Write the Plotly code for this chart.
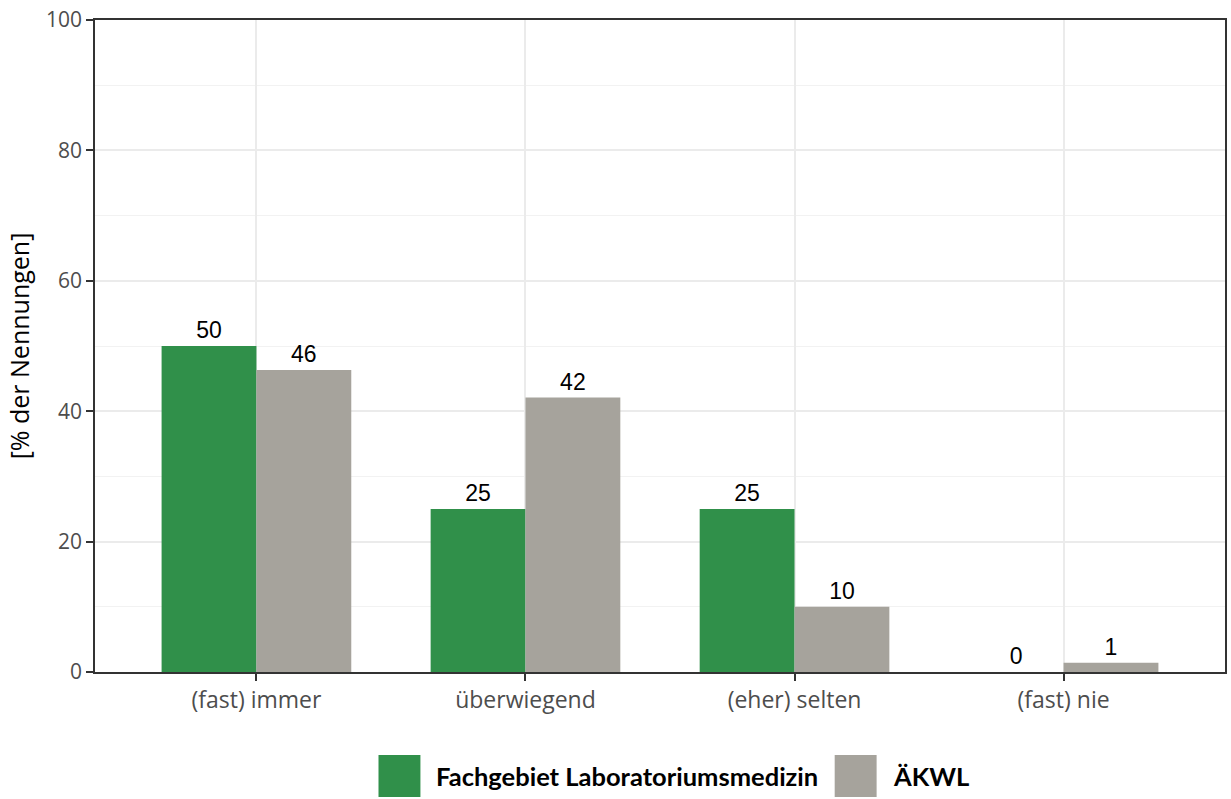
import plotly.graph_objects as go

categories = ["(fast) immer", "überwiegend", "(eher) selten", "(fast) nie"]
labor = [50, 25, 25, 0]
aekwl = [46.3, 42.1, 10.0, 1.4]
series_names = ["Fachgebiet Laboratoriumsmedizin", "ÄKWL"]
colors = ["#30904A", "#A6A39C"]
y_ticks = [0, 20, 40, 60, 80, 100]

fig = go.Figure()
for name, vals, col in zip(series_names, [labor, aekwl], colors):
    fig.add_trace(go.Bar(
        x=categories, y=vals, name=name,
        marker=dict(color=col, line=dict(width=0)),
        text=[f"{v:.0f}" for v in vals],
        textposition="outside",
        textfont=dict(family="Liberation Sans, Arial", size=23, color="black"),
        cliponaxis=False,
        showlegend=False,
    ))

# legend drawn by hand (large keys like ggplot)
leg = [(379, series_names[0], colors[0]), (836, series_names[1], colors[1])]
for x0, name, col in leg:
    fig.add_shape(type="rect", xref="paper", yref="paper",
                  x0=(x0 - 95) / 1132, x1=(x0 + 42 - 95) / 1132,
                  y0=(672 - 797) / 652, y1=(672 - 755) / 652,
                  fillcolor=col, line=dict(width=0))
    fig.add_annotation(text=f"<b>{name}</b>", xref="paper", yref="paper",
                       x=(x0 + 56 - 95) / 1132, y=(672 - 776) / 652,
                       xanchor="left", yanchor="middle", showarrow=False,
                       font=dict(family="Lato, Open Sans", size=25.5, color="black"))

fig.update_layout(
    barmode="group",
    bargap=0.295,
    bargroupgap=0,
    width=1231, height=799,
    margin=dict(l=95, r=4, t=20, b=127),
    plot_bgcolor="white",
    paper_bgcolor="white",
    font=dict(family="Open Sans", color="#4D4D4D"),
)
fig.update_xaxes(
    range=[-0.6, 3.6],
    showgrid=True, gridcolor="#EBEBEB", gridwidth=1.5,
    showline=True, linecolor="#333333", linewidth=1.5, mirror=True,
    ticks="outside", ticklen=7, tickcolor="#333333", tickwidth=1.5,
    tickfont=dict(family="Open Sans", size=23, color="#4D4D4D"),
)
fig.update_yaxes(
    range=[0, 100],
    tickvals=y_ticks,
    showgrid=True, gridcolor="#EBEBEB", gridwidth=1.5,
    minor=dict(dtick=10, showgrid=True, gridcolor="#F2F2F2", gridwidth=1),
    showline=True, linecolor="#333333", linewidth=1.5, mirror=True,
    ticks="outside", ticklen=7, tickcolor="#333333", tickwidth=1.5,
    tickfont=dict(family="Open Sans", size=21, color="#4D4D4D"),
    zeroline=False,
    title=dict(text="[% der Nennungen]", standoff=9,
               font=dict(family="Open Sans", size=25, color="black")),
)

fig.write_html("out.html", config={"displayModeBar": False},
               post_script="document.body.style.margin='0px';")
